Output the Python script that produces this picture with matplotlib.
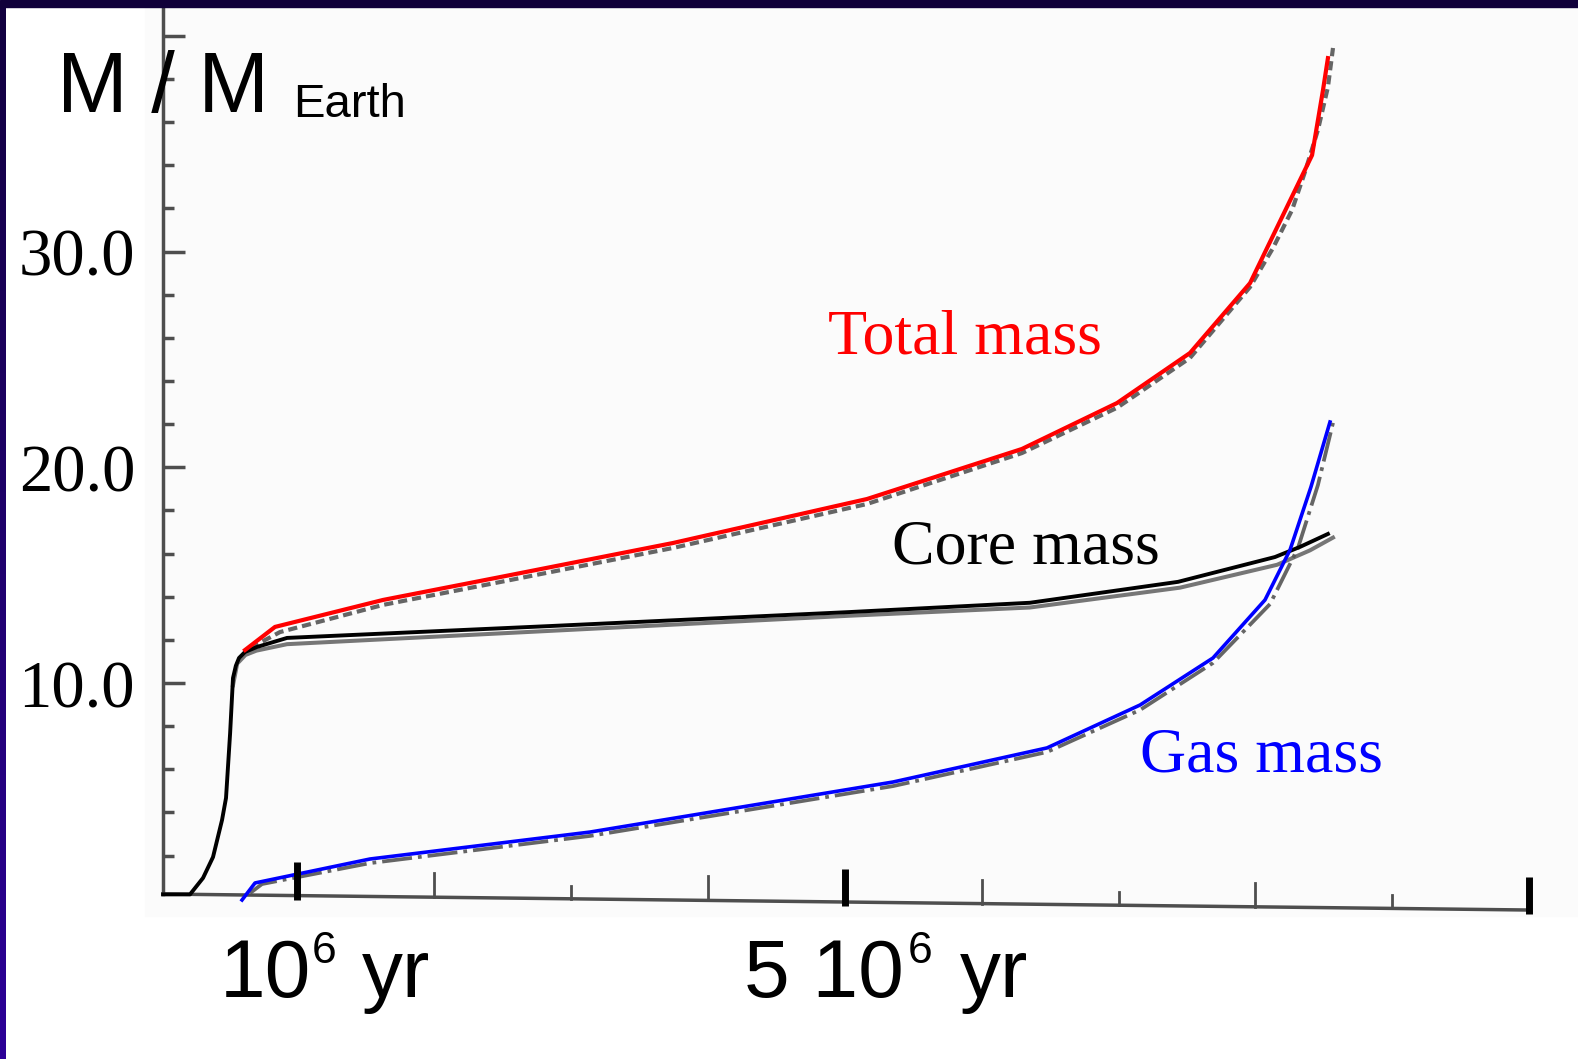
import numpy as np
import matplotlib.pyplot as plt
from matplotlib.patches import Rectangle
from matplotlib.colors import LinearSegmentedColormap
from matplotlib.transforms import offset_copy

# planet growth: time in Myr, masses in Earth masses
core_t = [0.018, 0.215, 0.31, 0.383, 0.449, 0.478, 0.508, 0.529, 0.55, 0.573, 0.617, 0.704,
          0.924, 2.845, 5.038, 6.353, 7.435, 8.143, 8.326, 8.53]
core_m = [0.2, 0.2, 0.96, 1.93, 3.65, 4.67, 7.68, 10.23, 10.8, 11.16, 11.44, 11.67,
          12.09, 12.64, 13.29, 13.72, 14.69, 15.84, 16.31, 16.91]

total_t = [0.617, 0.836, 1.625, 2.48, 3.744, 5.162, 6.294, 6.989, 7.522, 7.961, 8.414, 8.494, 8.53]
total_m = [11.53, 12.6, 13.85, 14.91, 16.49, 18.53, 20.85, 22.98, 25.3, 28.54, 34.47, 37.49, 38.97]

gas_t = [0.595, 0.69, 1.53, 3.138, 5.352, 6.477, 7.157, 7.69, 8.07, 8.253, 8.406, 8.545]
gas_m = [-0.06, 0.73, 1.84, 3.09, 5.41, 6.99, 8.98, 11.16, 13.85, 16.17, 19.09, 22.1]

# original (printed) curves underneath
orig_total_t = [0.654, 0.872, 1.625, 2.48, 3.744, 5.162, 6.294, 6.989, 7.522, 7.961,
                8.129, 8.268, 8.362, 8.457, 8.53, 8.567]
orig_total_m = [11.62, 12.36, 13.62, 14.68, 16.26, 18.3, 20.66, 22.76, 25.07, 28.36,
                30.17, 31.93, 33.69, 35.64, 37.63, 39.44]
orig_core_t = [0.529, 0.56, 0.62, 0.7, 0.924, 2.48, 5.038, 6.353, 7.449, 8.158, 8.399, 8.567]
orig_core_m = [9.9, 10.9, 11.3, 11.5, 11.8, 12.3, 13.12, 13.5, 14.42, 15.48, 16.15, 16.74]
orig_gas_t = [0.654, 0.741, 1.53, 3.138, 5.352, 6.477, 7.157, 7.69, 8.107, 8.311, 8.457, 8.567]
orig_gas_m = [0.26, 0.68, 1.65, 2.91, 5.22, 6.8, 8.75, 10.93, 13.66, 16.26, 19.18, 22.06]

y_major = [10, 20, 30, 40]
y_minor = [v for v in range(2, 40, 2) if v % 10]
x_scan_ticks = [2, 3, 4, 5, 6, 7, 8, 9]
x_big_ticks = [1, 5, 10]
y_labels = [10, 20, 30]

W, H = 1578, 1059
X0_PX, X_SCALE = 160.6, 136.85   # pixel column of t=0, pixels per Myr
Y0_PX, Y_SCALE = 898.7, 21.57    # pixel row of M=0, pixels per Earth mass
GRAY = '#4e4e4e'


def fig_xy(px, py):
    return px / W, 1 - py / H


def base(t):
    # the scanned time axis is slightly tilted
    return 0.218 - 0.0743 * np.asarray(t)


fig = plt.figure(figsize=(W / 100, H / 100), dpi=100)
fig.patch.set_facecolor('white')
ax = fig.add_axes([0, 0, 1, 1])
ax.set_xlim(-X0_PX / X_SCALE, (W - X0_PX) / X_SCALE)
ax.set_ylim((Y0_PX - H) / Y_SCALE, Y0_PX / Y_SCALE)
ax.axis('off')

# scanned page
x_left, x_right = ax.get_xlim()
ax.add_patch(Rectangle((-0.115, -0.80), x_right + 0.115, 41.34 + 0.80,
                       color='#fbfbfb', zorder=0))

# axes of the scan
y_axis_t = 0.0175
ax.plot([y_axis_t, y_axis_t], [base(y_axis_t), 41.34], color=GRAY, lw=2.5, zorder=1)
ax.plot([y_axis_t, 10.0], [base(y_axis_t), base(10.0)], color=GRAY, lw=2.5, zorder=1)
ax.hlines(y_major, y_axis_t, y_axis_t + 22 / X_SCALE, color=GRAY, lw=2.5, zorder=1)
ax.hlines(y_minor, y_axis_t, y_axis_t + 11 / X_SCALE, color=GRAY, lw=2.5, zorder=1)
for t in x_scan_ticks:
    h = (24 if t % 2 == 0 else 13) / Y_SCALE
    ax.plot([t, t], [base(t), base(t) + h], color=GRAY, lw=2.0, zorder=1)

# printed curves
ax.plot(orig_total_t, orig_total_m, color='#555555', lw=3.0, dashes=(2.2, 1.2), alpha=0.9, zorder=2)
ax.plot(orig_core_t, orig_core_m, color='#555555', lw=2.9, alpha=0.8, zorder=2)
ax.plot(orig_gas_t, orig_gas_m, color='#555555', lw=2.7, dashes=(8, 1.6, 1, 1.6), alpha=0.9, zorder=2)

# traced curves
ax.plot(total_t, total_m, color='#ff0000', lw=3.0, zorder=4)
ax.plot(core_t, core_m, color='black', lw=2.8, zorder=3)
ax.plot(gas_t, gas_m, color='#0000ff', lw=2.6, zorder=4)

# heavy time ticks
for t in x_big_ticks:
    ax.plot([t, t], [base(t) - 0.2, base(t) + 1.55], color='black', lw=5.0,
            solid_capstyle='butt', zorder=5)

# y tick labels
lab_tr = offset_copy(ax.transData, fig=fig, x=0, y=-24, units='dots')
for v in y_labels:
    ax.text((135 - X0_PX) / X_SCALE, v, f'{v:.1f}', transform=lab_tr,
            ha='right', va='baseline', fontsize=48, family='Liberation Serif')

# axis titles
sans = 'Liberation Sans'
fig.text(*fig_xy(57, 112), 'M / M', fontsize=61, family=sans, va='baseline')
fig.text(*fig_xy(293, 117), 'Earth', fontsize=34, family=sans, va='baseline')

fig.text(*fig_xy(220, 997), '10', fontsize=59, family=sans, va='baseline')
fig.text(*fig_xy(312, 963), '6', fontsize=32, family=sans, va='baseline')
fig.text(*fig_xy(362, 997), 'yr', fontsize=59, family=sans, va='baseline')
fig.text(*fig_xy(744, 997), '5 10', fontsize=59, family=sans, va='baseline')
fig.text(*fig_xy(908, 963), '6', fontsize=32, family=sans, va='baseline')
fig.text(*fig_xy(960, 997), 'yr', fontsize=59, family=sans, va='baseline')

# curve names
serif = 'Liberation Serif'
fig.text(*fig_xy(828, 354), 'Total mass', fontsize=46, family=serif, color='#ff0000', va='baseline')
fig.text(*fig_xy(892, 564), 'Core mass', fontsize=46, family=serif, color='black', va='baseline')
fig.text(*fig_xy(1140, 772), 'Gas mass', fontsize=46, family=serif, color='#0000ff', va='baseline')

# slide frame
fig.patches.append(Rectangle((0, 1 - 7 / H), 1, 7 / H, transform=fig.transFigure,
                             color='#10003a', zorder=10))
band = fig.add_axes([0, 0, 6 / W, 1 - 7 / H])
band.imshow(np.linspace(0, 1, 256)[:, None], aspect='auto',
            cmap=LinearSegmentedColormap.from_list('frame', ['#12003f', '#2c0098']))
band.axis('off')

fig.savefig('out.png', dpi=100)
